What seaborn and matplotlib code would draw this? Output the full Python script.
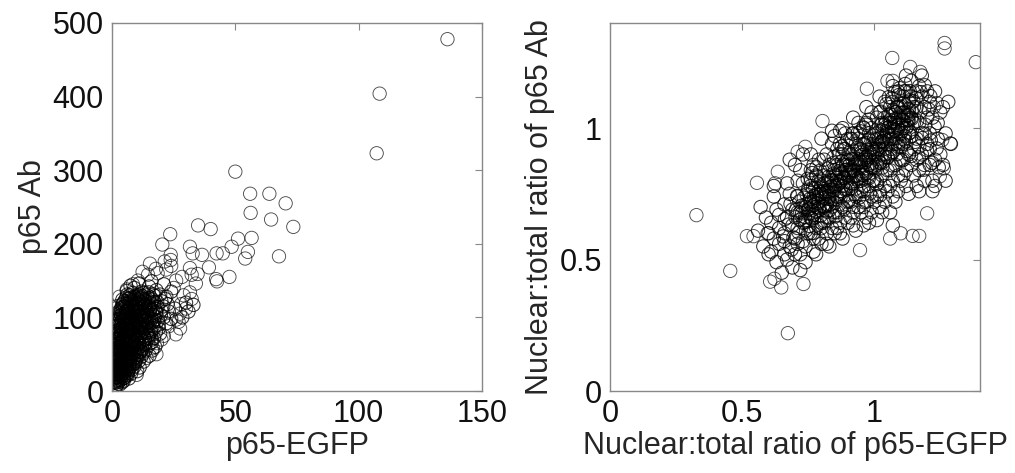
import matplotlib
matplotlib.use("Agg")
import matplotlib.pyplot as plt
import seaborn as sns
import pandas as pd

# ---------------- data: left panel (p65-EGFP vs p65 Ab) ----------------
egfp_outliers = [136, 108.5, 107.3, 50, 56, 63.8, 70.4, 56.2, 64.5, 73.5, 34.9, 40, 23.6, 56.6, 51.1,
                 20.4, 31.6, 48.5, 44.9, 36.5, 32.7, 55.1, 54, 67.7, 42.4, 39.3, 34.7, 42.2, 47.6, 42.6,
                 31.6, 32.3, 34, 31.6, 32.3, 29, 28.4, 23.8, 23.8, 24, 15.4, 17.8, 12.4, 14.6, 21.4,
                 22, 18.5, 10.5, 8.5, 6, 3, 1, 1.5, 26, 25, 28, 30, 27.5, 26, 27.6,
                 27, 25.9, 23, 20, 16.6, 18.2, 21, 18, 14, 10, 1.2, 2, 3.5, 0.5, 0]
ab_outliers = [478, 404, 323, 298, 268, 268, 255, 242, 233, 223, 225, 220, 213, 208, 207,
               199, 196, 196, 187, 185, 187, 189, 180, 183, 187, 168, 159, 152, 155, 149,
               167, 158, 146, 134, 125, 130, 155, 185, 178, 170, 173, 166, 162, 158, 176,
               165, 160, 150, 145, 138, 128, 105, 112, 150, 140, 118, 112, 105, 97, 85,
               94, 77, 88, 70, 58, 65, 75, 50, 45, 22, 11, 8, 15, 30, 20]

egfp_core = [1.5, 3, 4.2, 2.2, 5, 0.8, 3.6, 2.8,
             1, 2.5, 4, 5.5, 3.2, 6.5, 1.8, 7, 4.8, 2.1,
             0.7, 2, 3.4, 4.6, 5.8, 7.2, 8.3, 1.5, 3, 6.1, 9, 4,
             1, 2.4, 3.8, 5, 6.3, 7.6, 8.8, 10, 1.9, 4.4, 6.8, 9.5, 3.1, 11,
             1.3, 2.7, 4, 5.3, 6.6, 8, 9.2, 10.5, 11.8, 2, 3.5, 7.3, 4.8, 12.5, 6,
             1.6, 3, 4.3, 5.7, 7, 8.4, 9.7, 11, 12.4, 13.5, 2.3, 6.2, 10.3, 4.9, 8,
             2, 3.3, 4.7, 6, 7.4, 8.7, 10, 11.4, 12.8, 14, 2.8, 5.4, 9.4, 13.2, 15, 6.8,
             2.2, 3.6, 5, 6.4, 7.7, 9, 10.4, 11.8, 13.1, 14.5, 3, 5.7, 8.3, 12.2, 15.6, 16.5, 10.7,
             2.6, 4, 5.4, 6.8, 8.1, 9.5, 10.8, 12.2, 13.6, 15, 16.3, 3.4, 7.3, 11.5, 17.5, 4.7, 9.2,
             3, 4.4, 5.8, 7.2, 8.5, 9.9, 11.2, 12.6, 14, 15.4, 16.8, 4, 6.5, 10.6, 13.4, 18,
             3.6, 5, 6.4, 7.8, 9.1, 10.5, 11.9, 13.3, 14.7, 16, 17.3, 4.5, 8.5, 12.5, 15.5,
             5, 6.5, 8, 9.4, 10.8, 12.2, 13.6, 15, 16.4, 7.2, 11.5, 14.2, 17.5,
             6, 9, 12, 15, 18, 21, 11, 7.5, 16, 19.5, 22, 20, 24, 22.5,
             17, 19, 18.5, 21, 20, 23, 22, 19.5, 24, 25.5, 28.5, 30, 33, 31, 17.5, 16,
             0.5, 1.2, 2.5, 1, 0.8, 1.5, 2, 3.8, 2.9, 1.7, 0.6, 3, 2.4, 1.2]
ab_core = [14, 17, 12, 19, 18, 16, 21, 13,
           24, 26, 23, 27, 29, 25, 28, 30, 22, 22,
           33, 35, 32, 37, 34, 38, 35, 39, 38, 31, 33, 35,
           42, 45, 41, 47, 43, 48, 44, 46, 49, 44, 46, 41, 47, 49,
           52, 55, 51, 57, 53, 56, 52, 58, 54, 58, 59, 59, 54, 51, 50,
           62, 64, 61, 66, 63, 67, 62, 65, 68, 63, 68, 69, 69, 65, 61,
           72, 75, 71, 76, 73, 78, 72, 76, 74, 79, 79, 79, 75, 71, 76, 71,
           82, 85, 81, 86, 83, 88, 82, 86, 84, 89, 89, 89, 81, 80, 83, 88, 89,
           92, 95, 91, 96, 93, 98, 92, 96, 94, 99, 93, 99, 99, 99, 97, 97, 91,
           102, 105, 101, 106, 103, 108, 102, 106, 104, 109, 103, 109, 109, 109, 101, 106,
           112, 115, 111, 116, 113, 118, 112, 116, 114, 119, 112, 119, 119, 119, 111,
           122, 125, 121, 127, 123, 129, 122, 126, 124, 130, 131, 130, 129,
           136, 140, 135, 142, 137, 145, 146, 143, 149, 131, 128, 122, 135, 118,
           72, 85, 95, 100, 110, 108, 92, 78, 98, 112, 100, 120, 117, 108, 60, 66,
           25, 36, 31, 45, 55, 70, 60, 27, 43, 18, 40, 53, 65, 58]

egfp_dense = [0.9, 2.3, 3.9, 1.4, 2.9, 4.5, 6.2, 0.4, 1.8, 3.7, 5.2, 6.9, 8.1, 0.9, 2.6, 4.1, 5.6, 7.1, 8.4, 9.8,
              0.6, 1.9, 3.4, 4.6, 5.9, 7.5, 8.9, 10.1, 11.4, 12.9,
              1.2, 2.6, 3.9, 5.1, 6.6, 7.9, 9.2, 10.6, 11.9, 13.4, 14.6,
              1.7, 3.1, 4.5, 5.9, 7.2, 8.6, 9.9, 11.1, 12.6, 13.9, 15.2, 16.9,
              2.1, 3.8, 5.1, 6.3, 7.7, 9.1, 10.2, 11.7, 13.1, 14.4, 15.9, 17.2,
              2.9, 4.3, 5.6, 7, 8.2, 9.6, 11, 12.3, 13.8, 15.1, 16.5, 18.5,
              4.2, 5.8, 7.1, 8.7, 10.1, 11.4, 12.9, 14.5, 15.7, 17,
              6.2, 8.3, 10.2, 12.8, 14.9, 16.7,
              0.3, 0.5, 1.1, 0.7, 1.3, 1.0, 2.0, 0.8, 2.4, 1.6, 4.8, 6.8, 7.8, 9.4, 10.9, 12.0, 13.6, 14.8,
              16.2, 17.8, 18.9, 19.8, 20.8, 21.5, 16.3, 15.2, 12.8, 11.2, 10.2,
              1.6, 2.2, 3.3, 4.2, 1.1, 2.8, 3.7, 4.4, 5.5, 6.4, 2.0, 3.0, 4.1, 5.3, 6.3, 3.5, 2.5, 5.6, 6.7, 7.9,
              0.6, 1.9, 3.1, 4.4, 0.9, 2.3, 3.6, 5.1, 6.4, 1.3, 2.7, 4.2, 5.7, 7.3, 0.8, 2.1, 3.4, 4.8, 6.1, 7.8, 9.1,
              1.4, 2.9, 4.1, 5.5, 6.9, 8.2, 9.6, 10.8, 1.8, 3.2, 4.5, 5.8, 7.1, 8.4, 9.7, 11.2, 12.3,
              2.4, 3.7, 5.0, 6.2, 7.6, 8.9, 10.3, 11.6, 12.9, 14.2, 3.2, 4.6, 5.9, 7.3, 8.6, 9.8, 11.3, 12.7, 14.1,
              4.1, 5.4, 6.8, 8.1, 9.5, 10.9, 12.1, 13.6, 5.8, 7.4, 8.9, 10.4, 11.9, 13.3,
              2.0, 1.5, 2.6, 0.9, 1.9, 3.2, 4.6, 5.9, 7.2, 8.6, 9.9, 11.1, 12.3, 13.7, 14.9, 15.8, 16.9, 17.8, 18.3]
ab_dense = [18, 15, 19, 27, 24, 29, 21, 35, 31, 36, 33, 36, 29, 47, 42, 49, 40, 45, 50, 43,
            62, 57, 63, 58, 61, 55, 64, 60, 57, 62,
            74, 70, 77, 73, 80, 69, 77, 74, 79, 70, 75,
            88, 83, 90, 84, 90, 85, 94, 87, 91, 86, 92, 85,
            97, 103, 97, 104, 100, 104, 97, 103, 97, 102, 97, 101,
            108, 114, 108, 112, 109, 115, 111, 108, 112, 116, 110, 114,
            124, 119, 126, 124, 120, 126, 125, 121, 127, 121,
            131, 133, 130, 133, 134, 131,
            22, 45, 52, 67, 82, 95, 115, 12, 10, 6, 14, 17, 24, 38, 41, 47, 55, 62,
            70, 80, 90, 103, 115, 125, 55, 48, 40, 32, 27,
            34, 39, 44, 40, 61, 50, 57, 67, 62, 59, 78, 71, 84, 88, 92, 93, 104, 45, 52, 58,
            19, 23, 19, 25, 29, 33, 27, 31, 28, 38, 41, 34, 38, 41, 51, 48, 52, 48, 55, 51, 55,
            66, 60, 69, 63, 66, 60, 68, 64, 81, 76, 83, 78, 84, 79, 86, 81, 86,
            94, 89, 95, 90, 96, 90, 95, 91, 99, 93, 106, 101, 107, 102, 108, 101, 107, 103, 107,
            117, 113, 119, 114, 120, 115, 121, 117, 127, 123, 128, 125, 127, 124,
            70, 97, 57, 41, 12, 9, 17, 22, 33, 37, 49, 53, 57, 66, 72, 81, 95, 108, 121]

# ---------------- data: right panel (nuclear:total ratios) ----------------
ratio_egfp_outliers = [0.327, 0.455, 0.673, 1.384, 1.266, 1.266, 1.068, 0.804, 0.556, 0.518, 0.543, 0.946, 0.732,
                       0.606, 0.622, 0.648, 1.2, 1.288, 1.257, 1.263, 1.248, 1.237, 1.225, 1.136, 1.174, 0.972,
                       1.05, 1.07, 1.145, 1.17, 1.06, 1.1, 0.739, 0.71, 0.635, 0.625, 0.596]
ratio_ab_outliers = [0.669, 0.457, 0.22, 1.251, 1.324, 1.303, 1.267, 1.027, 0.792, 0.589, 0.589, 0.536, 0.407,
                     0.416, 0.427, 0.394, 0.676, 0.942, 0.955, 0.847, 0.817, 1.095, 1.08, 1.233, 1.214, 1.15,
                     1.18, 1.18, 0.59, 0.59, 0.58, 0.6, 0.929, 0.91, 0.834, 0.79, 0.6]

ratio_egfp = [0.56, 0.58, 0.59, 0.6, 0.57,
              0.61, 0.62, 0.63, 0.61, 0.64, 0.62, 0.63, 0.64, 0.65, 0.6, 0.64, 0.62,
              0.66, 0.67, 0.68, 0.66, 0.69, 0.67, 0.68, 0.7, 0.66, 0.69, 0.67, 0.7, 0.68, 0.69, 0.66, 0.7,
              0.71, 0.72, 0.73, 0.71, 0.74, 0.72, 0.73, 0.75, 0.71, 0.74, 0.72, 0.75, 0.73, 0.71, 0.74, 0.72, 0.75, 0.73, 0.71, 0.74,
              0.76, 0.77, 0.78, 0.76, 0.79, 0.77, 0.78, 0.8, 0.76, 0.79, 0.77, 0.8, 0.78, 0.76, 0.79, 0.77, 0.8, 0.78, 0.76, 0.79, 0.77, 0.8, 0.78, 0.76,
              0.81, 0.82, 0.83, 0.81, 0.84, 0.82, 0.83, 0.85, 0.81, 0.84, 0.82, 0.85, 0.83, 0.81, 0.84, 0.82, 0.85, 0.83, 0.81, 0.84, 0.82, 0.85, 0.83, 0.8, 0.84, 0.82,
              0.86, 0.87, 0.88, 0.86, 0.89, 0.87, 0.88, 0.9, 0.86, 0.89, 0.87, 0.9, 0.88, 0.86, 0.89, 0.87, 0.9, 0.88, 0.86, 0.89, 0.87, 0.9, 0.88, 0.86, 0.89, 0.87, 0.85, 0.88,
              0.91, 0.92, 0.93, 0.91, 0.94, 0.92, 0.93, 0.95, 0.91, 0.94, 0.92, 0.95, 0.93, 0.91, 0.94, 0.92, 0.95, 0.93, 0.91, 0.94, 0.92, 0.95, 0.93, 0.91, 0.94, 0.92, 0.95, 0.93,
              0.96, 0.97, 0.98, 0.96, 0.99, 0.97, 0.98, 1.0, 0.96, 0.99, 0.97, 1.0, 0.98, 0.96, 0.99, 0.97, 1.0, 0.98, 0.96, 0.99, 0.97, 1.0, 0.98, 0.96, 0.99, 0.97, 1.0, 0.98, 0.96, 0.99,
              1.01, 1.02, 1.03, 1.01, 1.04, 1.02, 1.03, 1.05, 1.01, 1.04, 1.02, 1.05, 1.03, 1.01, 1.04, 1.02, 1.05, 1.03, 1.01, 1.04, 1.02, 1.05, 1.03, 1.01, 1.04, 1.02, 1.05, 1.03, 1.01, 1.04,
              1.06, 1.07, 1.08, 1.06, 1.09, 1.07, 1.08, 1.1, 1.06, 1.09, 1.07, 1.1, 1.08, 1.06, 1.09, 1.07, 1.1, 1.08, 1.06, 1.09, 1.07, 1.1, 1.08, 1.06, 1.09, 1.07, 1.1, 1.08, 1.06, 1.09, 1.07,
              1.11, 1.12, 1.13, 1.11, 1.14, 1.12, 1.13, 1.15, 1.11, 1.14, 1.12, 1.15, 1.13, 1.11, 1.14, 1.12, 1.15, 1.13, 1.11, 1.14, 1.12, 1.15, 1.13, 1.11, 1.14, 1.12, 1.11, 1.13,
              1.16, 1.17, 1.18, 1.16, 1.19, 1.17, 1.18, 1.2, 1.16, 1.19, 1.17, 1.2, 1.18, 1.16, 1.19, 1.17, 1.2, 1.18, 1.16, 1.19, 1.17,
              1.21, 1.22, 1.23, 1.21, 1.24, 1.22, 1.23, 1.25, 1.21, 1.24, 1.22, 1.25, 1.23, 1.21,
              1.26, 1.27, 1.28, 1.26, 1.29, 1.27]
ratio_ab = [0.61, 0.55, 0.66, 0.52, 0.7,
            0.64, 0.58, 0.69, 0.53, 0.62, 0.74, 0.49, 0.56, 0.45, 0.6, 0.67, 0.78,
            0.6, 0.66, 0.55, 0.71, 0.63, 0.5, 0.75, 0.58, 0.52, 0.69, 0.79, 0.86, 0.88, 0.47, 0.57, 0.52,
            0.62, 0.68, 0.57, 0.74, 0.65, 0.52, 0.79, 0.6, 0.56, 0.71, 0.84, 0.76, 0.64, 0.68, 0.49, 0.46, 0.69, 0.9, 0.8, 0.55,
            0.66, 0.72, 0.62, 0.78, 0.69, 0.58, 0.82, 0.74, 0.6, 0.76, 0.86, 0.64, 0.7, 0.72, 0.58, 0.53, 0.8, 0.75, 0.84, 0.88, 0.67, 0.56, 0.52, 0.9,
            0.7, 0.76, 0.66, 0.82, 0.73, 0.6, 0.86, 0.78, 0.64, 0.8, 0.9, 0.68, 0.74, 0.76, 0.62, 0.56, 0.84, 0.79, 0.88, 0.94, 0.71, 0.6, 0.55, 0.96, 0.99, 0.66,
            0.74, 0.8, 0.7, 0.86, 0.77, 0.64, 0.9, 0.82, 0.68, 0.84, 0.94, 0.72, 0.78, 0.8, 0.66, 0.6, 0.88, 0.83, 0.92, 0.98, 0.75, 0.64, 0.58, 0.62, 0.92, 0.99, 0.97, 1.0,
            0.78, 0.84, 0.74, 0.9, 0.81, 0.68, 0.94, 0.86, 0.72, 0.88, 0.98, 0.76, 0.82, 0.84, 0.7, 0.63, 0.92, 0.87, 0.96, 1.02, 0.79, 0.68, 0.61, 0.66, 0.96, 1.04, 0.8, 0.77,
            0.82, 0.88, 0.78, 0.94, 0.85, 0.72, 0.98, 0.9, 0.76, 0.92, 1.02, 0.8, 0.86, 0.88, 0.74, 0.66, 0.96, 0.91, 1.0, 1.06, 0.83, 0.72, 0.64, 0.7, 1.0, 1.08, 0.85, 0.81, 0.63, 0.68,
            0.86, 0.92, 0.82, 0.98, 0.89, 0.76, 1.02, 0.94, 0.8, 0.96, 1.06, 0.84, 0.9, 0.92, 0.78, 0.7, 1.0, 0.95, 1.04, 1.1, 0.87, 0.76, 0.68, 0.74, 1.04, 1.12, 0.89, 0.85, 0.65, 0.72,
            0.9, 0.96, 0.86, 1.02, 0.93, 0.8, 1.06, 0.98, 0.84, 1.0, 1.1, 0.88, 0.94, 0.96, 0.82, 0.74, 1.04, 0.99, 1.08, 1.14, 0.91, 0.8, 0.72, 0.78, 1.08, 1.16, 0.93, 1.02, 0.68, 0.76, 0.63,
            0.94, 1.0, 0.9, 1.06, 0.97, 0.84, 1.1, 1.02, 0.88, 1.04, 1.14, 0.92, 0.98, 1.0, 0.86, 0.78, 1.08, 1.03, 1.12, 1.18, 0.95, 0.82, 0.75, 0.82, 1.12, 1.2, 1.03, 1.05,
            0.96, 1.02, 0.9, 1.08, 0.98, 0.84, 1.12, 1.04, 0.88, 1.08, 1.16, 0.94, 0.98, 0.78, 0.86, 0.76, 1.14, 1.2, 1.14, 0.8, 0.93,
            0.98, 1.04, 0.88, 1.1, 0.96, 0.8, 1.14, 1.06, 0.86, 1.02, 0.76, 0.9, 0.78, 0.92,
            1.08, 0.98, 1.1, 0.86, 0.94, 0.8]

ratio_egfp_dense = [0.725, 0.738, 0.744, 0.752, 0.757, 0.763, 0.768, 0.772, 0.779, 0.783, 0.788, 0.791, 0.797, 0.802, 0.806, 0.811,
                    0.815, 0.821, 0.826, 0.829, 0.834, 0.838, 0.742, 0.755, 0.769, 0.785, 0.798, 0.812, 0.748, 0.765, 0.781, 0.795,
                    0.862, 0.867, 0.873, 0.878, 0.884, 0.889, 0.893, 0.897, 0.903, 0.908, 0.912, 0.917, 0.922, 0.926, 0.931, 0.936,
                    0.941, 0.945, 0.951, 0.955, 0.961, 0.966, 0.971, 0.976, 0.981, 0.986, 0.991, 0.996, 0.868, 0.886, 0.904, 0.921,
                    0.943, 0.962, 0.983, 0.877, 0.899, 0.918, 0.947, 0.969,
                    1.032, 1.038, 1.043, 1.048, 1.053, 1.057, 1.062, 1.066, 1.071, 1.075, 1.079, 1.083, 1.087, 1.091, 1.095, 1.099,
                    1.103, 1.107, 1.111, 1.116, 1.121, 1.126, 1.131, 1.136, 1.142, 1.148, 1.034, 1.051, 1.069, 1.086, 1.104, 1.122,
                    1.139, 1.055, 1.078, 1.096, 1.117, 1.134,
                    0.842, 0.848, 0.853, 0.857, 0.845, 0.852, 1.005, 1.012, 1.018, 1.023, 1.027, 1.009, 1.021, 0.676, 0.683, 0.694,
                    0.702, 0.708, 0.714, 0.687, 0.655, 0.662,
                    1.155, 1.162, 1.168, 1.174, 1.181, 1.187, 1.193, 1.199, 1.206, 1.214, 1.219, 1.228, 1.236, 1.244, 1.158, 1.176,
                    1.191, 1.212,
                    0.703, 0.716, 0.727, 0.733, 0.741, 0.749, 0.758, 0.764, 0.771, 0.777, 0.786, 0.792, 0.799, 0.736, 0.753, 0.774,
                    0.793, 0.718, 0.761, 0.782,
                    0.804, 0.809, 0.817, 0.823, 0.828, 0.836, 0.841, 0.847, 0.853, 0.859, 0.864, 0.871, 0.876, 0.882, 0.887, 0.894,
                    0.898, 0.813, 0.831, 0.851, 0.872, 0.892, 0.825, 0.846, 0.866, 0.885,
                    0.902, 0.907, 0.914, 0.919, 0.924, 0.932, 0.938, 0.944, 0.949, 0.957, 0.963, 0.968, 0.974, 0.979, 0.985, 0.992,
                    0.998, 0.911, 0.934, 0.953, 0.972, 0.993, 0.916, 0.937, 0.958, 0.978,
                    1.003, 1.008, 1.014, 1.019, 1.026, 1.031, 1.037, 1.044, 1.049, 1.056, 1.061, 1.067, 1.073, 1.081, 1.085, 1.092,
                    1.098, 1.106, 1.113, 1.119, 1.127, 1.133, 1.141, 1.015, 1.041, 1.063, 1.089, 1.112, 1.024, 1.046, 1.068, 1.093,
                    1.115]
ratio_ab_dense = [0.705, 0.662, 0.748, 0.694, 0.731, 0.655, 0.772, 0.708, 0.684, 0.745, 0.796, 0.723, 0.667, 0.758, 0.703, 0.789,
                  0.735, 0.682, 0.814, 0.756, 0.712, 0.778, 0.611, 0.628, 0.601, 0.633, 0.619, 0.646, 0.807, 0.829, 0.851, 0.838,
                  0.785, 0.836, 0.761, 0.874, 0.812, 0.746, 0.859, 0.797, 0.905, 0.833, 0.771, 0.882, 0.816, 0.749, 0.861, 0.925,
                  0.798, 0.853, 0.907, 0.836, 0.779, 0.871, 0.943, 0.814, 0.889, 0.852, 0.927, 0.801, 0.711, 0.693, 0.724, 0.701,
                  0.736, 0.718, 0.752, 0.931, 0.958, 0.979, 0.988, 1.013,
                  0.951, 1.012, 0.923, 0.986, 1.048, 0.957, 1.021, 0.938, 1.069, 0.992, 1.035, 0.962, 1.082, 1.013, 0.947, 1.058,
                  0.988, 1.031, 1.094, 0.969, 1.047, 1.008, 1.071, 0.983, 1.036, 1.102, 0.872, 0.889, 0.858, 0.901, 0.876, 0.913,
                  0.894, 1.118, 1.137, 1.152, 1.168, 1.141,
                  0.702, 0.763, 0.821, 0.739, 0.867, 0.664, 0.842, 0.903, 0.961, 0.867, 1.013, 0.786, 0.744, 0.633, 0.712, 0.584,
                  0.661, 0.742, 0.603, 0.538, 0.588, 0.654,
                  0.948, 1.028, 0.889, 1.063, 0.962, 0.842, 1.013, 0.917, 1.071, 0.953, 0.868, 1.006, 0.923, 0.851, 1.115, 1.137,
                  1.163, 1.122,
                  0.688, 0.721, 0.676, 0.735, 0.699, 0.766, 0.713, 0.688, 0.741, 0.773, 0.715, 0.697, 0.782, 0.642, 0.675, 0.659,
                  0.748, 0.652, 0.803, 0.816,
                  0.733, 0.768, 0.752, 0.792, 0.731, 0.803, 0.765, 0.827, 0.778, 0.812, 0.846, 0.794, 0.827, 0.861, 0.809, 0.842,
                  0.878, 0.702, 0.688, 0.716, 0.736, 0.764, 0.846, 0.889, 0.902, 0.921,
                  0.823, 0.861, 0.847, 0.902, 0.838, 0.884, 0.867, 0.918, 0.871, 0.898, 0.937, 0.889, 0.918, 0.957, 0.905, 0.939,
                  0.972, 0.791, 0.806, 0.821, 0.848, 0.867, 0.958, 0.981, 1.003, 1.032,
                  0.921, 0.958, 0.936, 0.988, 0.947, 0.991, 0.968, 1.021, 0.979, 1.004, 1.052, 0.998, 1.027, 1.061, 1.006, 1.041,
                  1.083, 1.015, 1.058, 1.087, 1.032, 1.106, 1.064, 0.882, 0.903, 0.921, 0.938, 0.957, 1.063, 1.092, 1.114, 1.126,
                  1.141]

left_core_df = pd.DataFrame({"p65-EGFP": egfp_core + egfp_dense, "p65 Ab": ab_core + ab_dense})
left_out_df = pd.DataFrame({"p65-EGFP": egfp_outliers, "p65 Ab": ab_outliers})
right_core_df = pd.DataFrame({"egfp": ratio_egfp + ratio_egfp_dense, "ab": ratio_ab + ratio_ab_dense})
right_out_df = pd.DataFrame({"egfp": ratio_egfp_outliers, "ab": ratio_ab_outliers})

sns.set_style("white")
plt.rcParams["font.family"] = ["Liberation Sans", "DejaVu Sans"]

fig = plt.figure(figsize=(10.15, 4.73), dpi=100)
W, H = 1015, 473
ax1 = fig.add_axes([112 / W, (H - 391) / H, 370 / W, 368 / H])
ax2 = fig.add_axes([610 / W, (H - 391) / H, 370 / W, 368 / H])

core_kws = dict(marker="o", s=92, facecolors="none", edgecolors="black", linewidths=0.75, alpha=0.8)
out_kws = dict(marker="o", s=92, facecolors="none", edgecolors="black", linewidths=0.65, alpha=0.7)
sns.scatterplot(data=left_core_df, x="p65-EGFP", y="p65 Ab", ax=ax1, **core_kws)
sns.scatterplot(data=left_out_df, x="p65-EGFP", y="p65 Ab", ax=ax1, **out_kws)
sns.scatterplot(data=right_core_df, x="egfp", y="ab", ax=ax2, **core_kws)
sns.scatterplot(data=right_out_df, x="egfp", y="ab", ax=ax2, **out_kws)

fs = 22
ax1.set_xlim(0, 150)
ax1.set_ylim(0, 500)
ax1.set_xticks([0, 50, 100, 150])
ax1.set_yticks([0, 100, 200, 300, 400, 500])
ax1.set_xlabel("p65-EGFP", fontsize=fs, labelpad=1)
ax1.set_ylabel("p65 Ab", fontsize=fs, labelpad=3)

ax2.set_xlim(0, 1.4)
ax2.set_ylim(0, 1.4)
ax2.set_xticks([0, 0.5, 1])
ax2.set_xticklabels(["0", "0.5", "1"])
ax2.set_yticks([0, 0.5, 1])
ax2.set_yticklabels(["0", "0.5", "1"])
ax2.set_xlabel("Nuclear:total ratio of p65-EGFP", fontsize=fs, labelpad=1)
ax2.set_ylabel("Nuclear:total ratio of p65 Ab", fontsize=fs, labelpad=3)

for ax in (ax1, ax2):
    ax.tick_params(direction="in", top=True, right=True, length=5, width=0.8,
                   color="#888888", labelsize=fs, labelcolor="#111111", pad=6)
    for sp in ax.spines.values():
        sp.set_color("#888888")
        sp.set_linewidth(1.0)
    ax.set_facecolor("white")

fig.savefig("out.png", dpi=100, facecolor="white")
